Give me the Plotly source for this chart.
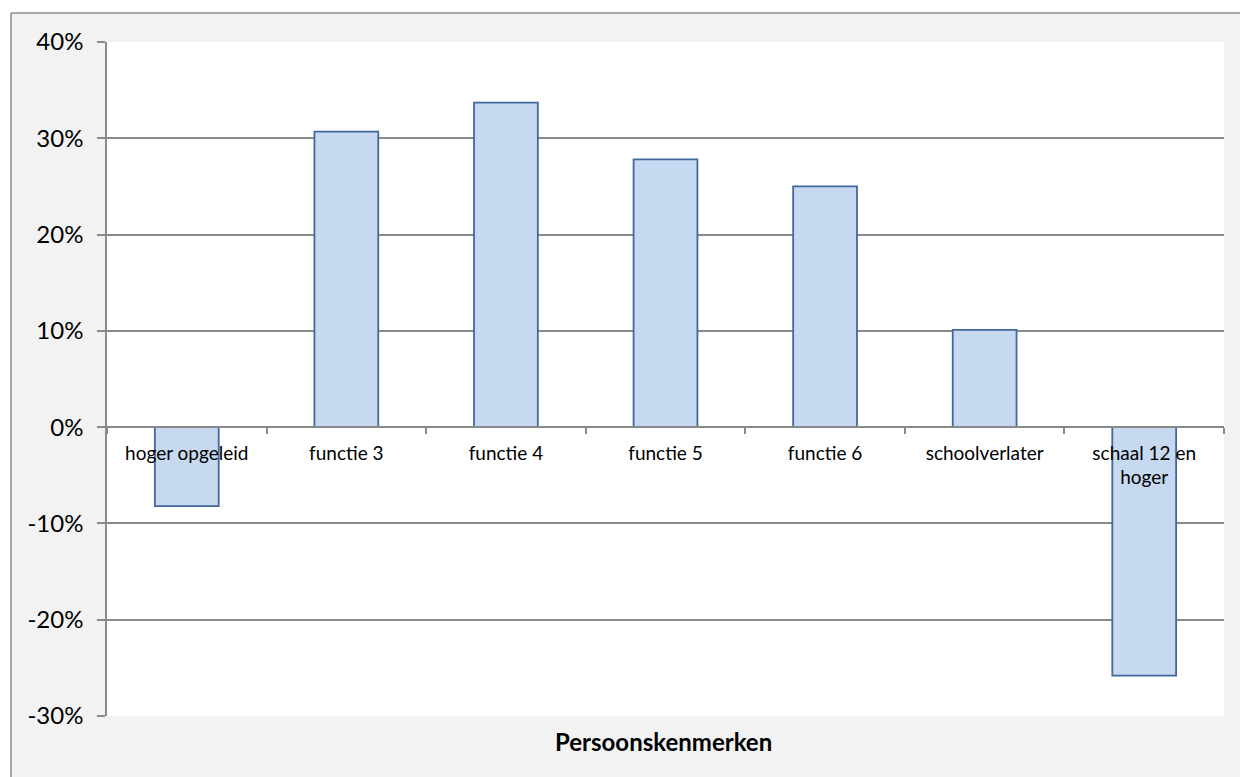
import plotly.graph_objects as go

categories = ["hoger opgeleid", "functie 3", "functie 4", "functie 5", "functie 6",
              "schoolverlater", "schaal 12 en<br>hoger"]
values = [-8.2, 30.7, 33.7, 27.8, 25.0, 10.1, -25.8]
y_ticks = [-30, -20, -10, 0, 10, 20, 30, 40]
y_tick_labels = [f"{v}%" for v in y_ticks]
x_title = "Persoonskenmerken"

FONT = "Lato"
GRID = "#8a8a8a"

W, H = 1240, 777
L, R, T, B = 107, 1224, 42, 716
pw, ph = R - L, B - T

def px(x):
    return (x - L) / pw

def py(y):
    return (B - y) / ph

fig = go.Figure(go.Bar(
    x=categories, y=values, width=0.4,
    marker=dict(color="#c6d9f1", line=dict(color="#41689c", width=1.8)),
))

fig.update_layout(
    width=W, height=H, autosize=False,
    margin=dict(l=L, r=W - R, t=T, b=H - B, pad=0),
    paper_bgcolor="#f2f2f2", plot_bgcolor="white",
    showlegend=False,
    font=dict(family=FONT, color="black"),
    xaxis=dict(
        anchor="free", position=0.428571, showline=True, linecolor=GRID, linewidth=1.5,
        ticks="outside", tickson="boundaries", ticklen=6, tickcolor=GRID, tickwidth=1.5,
        tickfont=dict(size=19, family=FONT), showgrid=False, zeroline=False,
        ticklabelstandoff=9,
    ),
    yaxis=dict(
        range=[-30, 40], tickvals=y_ticks, ticktext=y_tick_labels,
        showline=True, linecolor=GRID, linewidth=1.5,
        ticks="outside", ticklen=8, tickcolor=GRID, tickwidth=1.5,
        gridcolor=GRID, gridwidth=1.5, zeroline=False,
        tickfont=dict(size=24, family=FONT), ticklabelstandoff=9,
    ),
    shapes=[
        dict(type="rect", xref="paper", yref="paper", x0=px(-5), x1=px(11), y0=py(790), y1=py(-5),
             fillcolor="white", line=dict(width=0), layer="above"),
        dict(type="rect", xref="paper", yref="paper", x0=px(-5), x1=px(1250), y0=py(13), y1=py(-5),
             fillcolor="white", line=dict(width=0), layer="above"),
        dict(type="line", xref="paper", yref="paper", x0=px(11), x1=px(11), y0=py(13), y1=py(790),
             line=dict(color="#8c8c8c", width=1.5)),
        dict(type="line", xref="paper", yref="paper", x0=px(11), x1=px(1250), y0=py(13), y1=py(13),
             line=dict(color="#8c8c8c", width=1.5)),
    ],
    annotations=[
        dict(text=f"<b>{x_title}</b>", xref="paper", yref="paper", x=px(663), y=py(741),
             xanchor="center", yanchor="middle", showarrow=False,
             font=dict(size=24, family=FONT, color="black")),
    ],
)

fig.write_html("out.html", config={"displayModeBar": False},
               post_script="document.body.style.margin='0';document.body.style.overflow='hidden';")
